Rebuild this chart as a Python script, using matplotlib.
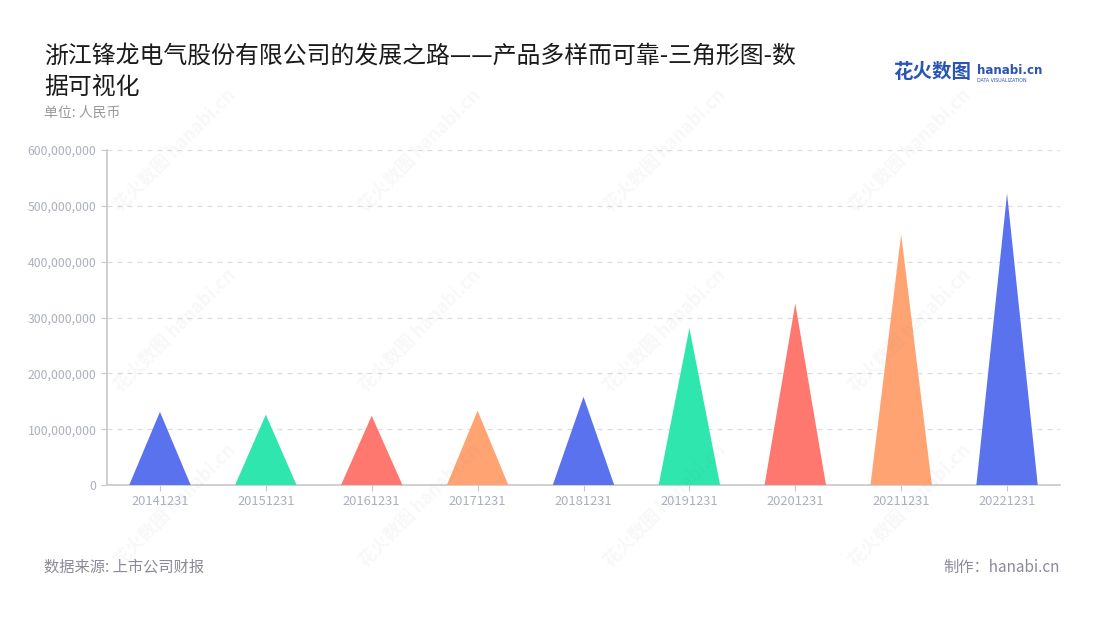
import matplotlib.pyplot as plt
from matplotlib.ticker import FuncFormatter

plt.rcParams['font.family'] = ['Noto Sans CJK SC', 'DejaVu Sans']

# data
dates = ["20141231", "20151231", "20161231", "20171231", "20181231",
         "20191231", "20201231", "20211231", "20221231"]
values = [131e6, 126e6, 124e6, 133e6, 158e6, 281e6, 325e6, 449e6, 522e6]
palette = ["#5A72EE", "#2EE6AE", "#FF7870", "#FFA372"]

title = "浙江锋龙电气股份有限公司的发展之路——产品多样而可靠-三角形图-数\n据可视化"
unit = "单位: 人民币"
source = "数据来源: 上市公司财报"
credit = "制作：hanabi.cn"

fig = plt.figure(figsize=(11, 6.2), dpi=100)
ax = fig.add_axes([107 / 1100, 135 / 620, 953 / 1100, 335 / 620])

half = 0.29
for i, v in enumerate(values):
    ax.fill([i - half, i, i + half], [0, v, 0],
            color=palette[i % len(palette)], linewidth=0, zorder=3)

ax.set_xlim(-0.5, len(dates) - 0.5)
ax.set_ylim(0, 600e6)
ax.set_xticks(range(len(dates)))
ax.set_xticklabels(dates)
ax.set_yticks([i * 100e6 for i in range(7)])
ax.yaxis.set_major_formatter(FuncFormatter(lambda v, p: f"{int(v):,}"))

ax.grid(axis="y", color="#dddddd", linestyle=(0, (4, 4)), linewidth=0.9, zorder=0)
for side in ["top", "right"]:
    ax.spines[side].set_visible(False)
for side in ["left", "bottom"]:
    ax.spines[side].set_color("#c8c8c8")
    ax.spines[side].set_linewidth(1.2)
ax.tick_params(axis="x", colors="#c8c8c8", labelcolor="#aab0bd",
               labelsize=9.3, length=4)
ax.tick_params(axis="y", colors="#c8c8c8", labelcolor="#aab0bd",
               labelsize=8.8, length=4)

# header
fig.text(44 / 1100, 1 - 46 / 620, title, fontsize=17.2, color="#1a1a1a",
         va="top", ha="left", linespacing=1.38)
# unit note sits just under the wrapped title so the two don't collide
fig.text(44 / 1100, 1 - 113 / 620, unit, fontsize=10, color="#999999",
         va="center", ha="left")

# logo
fig.text(893 / 1100, 1 - 73 / 620, "花火数图", fontsize=14, color="#2a55b5",
         fontweight="bold", va="center", ha="left")
fig.text(977 / 1100, 1 - 70 / 620, "hanabi.cn", fontsize=8.6, color="#2a55b5",
         fontweight="bold", va="center", ha="left", family="DejaVu Sans")
fig.text(977 / 1100, 1 - 80 / 620, "DATA VISUALIZATION", fontsize=3.4,
         color="#2a55b5", va="center", ha="left", family="DejaVu Sans")

# footer
fig.text(44 / 1100, 1 - 567 / 620, source, fontsize=11, color="#8a8a9a",
         va="center", ha="left")
fig.text(1060 / 1100, 1 - 567 / 620, credit, fontsize=11, color="#8a8a9a",
         va="center", ha="right")

# faint watermarks
for wx in [175, 420, 665, 910]:
    for wy in [150, 330, 505]:
        fig.text(wx / 1100, 1 - wy / 620, "花火数图 hanabi.cn", fontsize=13,
                 color="#888888", alpha=0.06, rotation=45, fontweight="bold",
                 ha="center", va="center", zorder=10)

fig.savefig("out.png", dpi=100)
plt.close(fig)
